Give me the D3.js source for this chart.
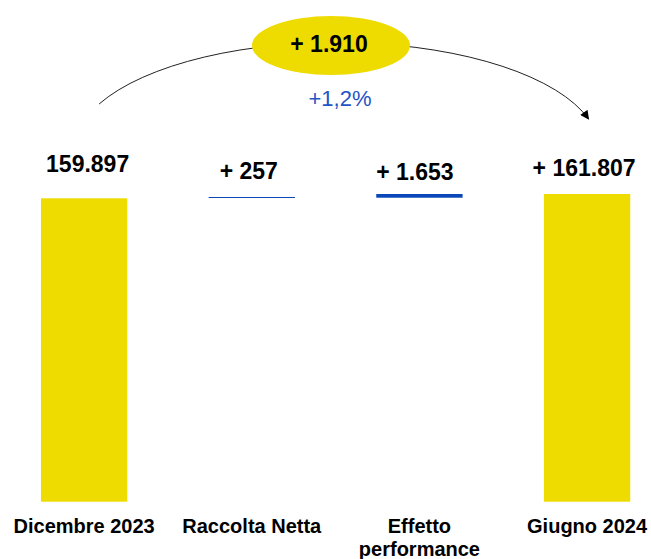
<!DOCTYPE html>
<html>
<head>
<meta charset="utf-8">
<script src="https://cdn.jsdelivr.net/npm/d3@7"></script>
<style>
  html, body { margin: 0; padding: 0; background: #fff; }
  svg { display: block; }
</style>
</head>
<body>
<svg id="chart" width="651" height="559"></svg>
<script>
// ---- data ----
const categories = ["Dicembre 2023", "Raccolta Netta", "Effetto performance", "Giugno 2024"];
const kinds = ["total", "delta", "delta", "total"];
const values = [159897, 257, 1653, 161807];
const valueLabels = ["159.897", "+ 257", "+ 1.653", "+ 161.807"];
const totalChangeLabel = "+ 1.910";
const totalPctLabel = "+1,2%";

// ---- layout / style ----
const yellow = "#EEDB00";
const blue = "#0A47B8";
const labelDy = [26, 18.5, 14, 18];
const labelDx = [3.5, -3, -4.5, -3];

const svg = d3.select("#chart");

// compute waterfall segments
let running = 0;
const segs = categories.map((c, i) => {
  let y0, y1;
  if (kinds[i] === "total") { y0 = null; y1 = values[i]; running = values[i]; }
  else { y0 = running; y1 = running + values[i]; running = y1; }
  return { cat: c, kind: kinds[i], y0, y1, label: valueLabels[i], i };
});

const x = d3.scaleBand().domain(categories).range([0, 671.2]).paddingInner(0.485).paddingOuter(0.2443);
const y = d3.scaleLinear().domain([25100, 161807]).range([501.7, 194]);
const baseV = y.domain()[0];

function barTop(d) {
  if (d.kind === "total") return y(d.y1);
  const top = y(Math.max(d.y0, d.y1));
  const h = Math.abs(y(d.y0) - y(d.y1));
  return h < 1 ? Math.floor(top) : top;
}

// bars
svg.append("g").selectAll("rect").data(segs).join("rect")
  .attr("x", d => x(d.cat))
  .attr("width", x.bandwidth())
  .attr("y", d => barTop(d))
  .attr("height", d => {
    if (d.kind === "total") return y(baseV) - y(d.y1);
    return Math.max(1, Math.abs(y(d.y0) - y(d.y1)));
  })
  .attr("fill", d => d.kind === "total" ? yellow : blue);

// value labels
svg.append("g").selectAll("text").data(segs).join("text")
  .attr("x", d => x(d.cat) + x.bandwidth() / 2 + labelDx[d.i])
  .attr("y", d => (d.kind === "total" ? y(d.y1) : y(Math.max(d.y0, d.y1))) - labelDy[d.i])
  .attr("text-anchor", "middle")
  .attr("font-family", "Liberation Sans, Arial, sans-serif")
  .attr("font-weight", "bold")
  .attr("font-size", 23)
  .attr("fill", "#000")
  .text(d => d.label);

// category labels (wrap two-word "Effetto performance")
const catG = svg.append("g");
categories.forEach((c, i) => {
  const lines = c === "Effetto performance" ? ["Effetto", "performance"] : [c];
  const t = catG.append("text")
    .attr("x", x(c) + x.bandwidth() / 2)
    .attr("y", 533)
    .attr("text-anchor", "middle")
    .attr("font-family", "Liberation Sans, Arial, sans-serif")
    .attr("font-weight", "bold")
    .attr("font-size", 20)
    .attr("fill", "#000");
  lines.forEach((l, k) => {
    t.append("tspan").attr("x", x(c) + x.bandwidth() / 2).attr("dy", k === 0 ? 0 : 22.7).text(l);
  });
});

// arrow marker
const defs = svg.append("defs");
defs.append("marker")
  .attr("id", "arrowhead")
  .attr("viewBox", "0 0 10 10")
  .attr("refX", 9).attr("refY", 5)
  .attr("markerWidth", 10).attr("markerHeight", 9)
  .attr("markerUnits", "userSpaceOnUse")
  .attr("orient", "auto")
  .append("path").attr("d", "M0,0 L10,5 L0,10 Z").attr("fill", "#000");

// connecting arc from first to last bar
const first = categories[0], last = categories[categories.length - 1];
const sx = x(first) + x.bandwidth() / 2 + 15, sy = 104;
const ex = x(last) + x.bandwidth() / 2 + 1.5, ey = 119;
svg.append("path")
  .attr("d", `M${sx},${sy} A262,106 0 0 1 ${ex},${ey}`)
  .attr("fill", "none")
  .attr("stroke", "#222")
  .attr("stroke-width", 1)
  .attr("marker-end", "url(#arrowhead)");

// ellipse with total change
svg.append("ellipse")
  .attr("cx", 331).attr("cy", 45.5).attr("rx", 79).attr("ry", 29.5)
  .attr("fill", yellow);
svg.append("text")
  .attr("x", 329).attr("y", 51.7)
  .attr("text-anchor", "middle")
  .attr("font-family", "Liberation Sans, Arial, sans-serif")
  .attr("font-weight", "bold")
  .attr("font-size", 23)
  .attr("fill", "#000")
  .text(totalChangeLabel);
svg.append("text")
  .attr("x", 340).attr("y", 106)
  .attr("text-anchor", "middle")
  .attr("font-family", "Liberation Sans, Arial, sans-serif")
  .attr("font-size", 22)
  .attr("fill", "#1F55C4")
  .text(totalPctLabel);
</script>
</body>
</html>
